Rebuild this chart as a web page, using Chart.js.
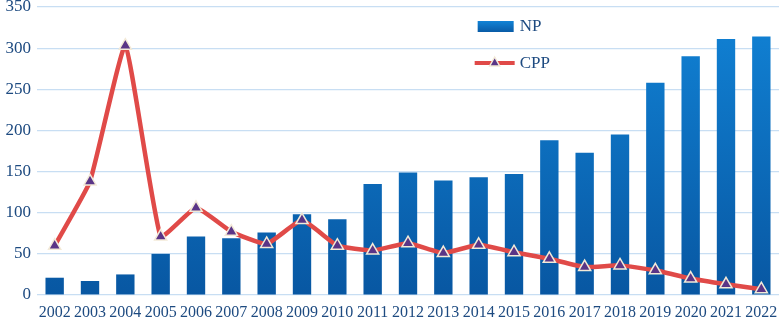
<!DOCTYPE html>
<html>
<head>
<meta charset="utf-8">
<script src="https://cdn.jsdelivr.net/npm/chart.js@4"></script>
<style>
  html, body { margin: 0; padding: 0; background: #fff; }
  #wrap { width: 782px; height: 323px; position: relative; }
</style>
</head>
<body>
<div id="wrap"><canvas id="chart"></canvas></div>
<script>
const years = ['2002', '2003', '2004', '2005', '2006', '2007', '2008', '2009', '2010', '2011', '2012',
    '2013', '2014', '2015', '2016', '2017', '2018', '2019', '2020', '2021', '2022'];
const npValues = [21, 17, 25, 50, 71, 69, 76, 98, 92, 135, 149, 139, 143, 147, 188, 173, 195, 258, 290, 311, 314];
const cppValues = [60, 138, 303, 71, 106, 77, 62, 91, 60, 54, 63, 51, 61, 52, 44, 34, 36, 30, 20, 13, 7];
const yTicks = [0, 50, 100, 150, 200, 250, 300, 350];

const textColor = '#1d4a80';
const fontFamily = '"Liberation Serif", "Times New Roman", serif';

function barGradient(context) {
    const chart = context.chart;
    const area = chart.chartArea;
    if (!area) return '#0a6cc0';
    const g = chart.ctx.createLinearGradient(0, area.top, 0, area.bottom);
    g.addColorStop(0, '#1183d6');
    g.addColorStop(1, '#0857a2');
    return g;
}

// legend drawn by hand so it sits inside the plot like the original
const legendPlugin = {
    id: 'insideLegend',
    afterDatasetsDraw(chart) {
        const ctx = chart.ctx;
        const x = chart.scales.x.getPixelForValue(12);
        ctx.save();
        ctx.font = '17px ' + fontFamily;
        ctx.textBaseline = 'middle';
        // NP
        const g = ctx.createLinearGradient(0, 21, 0, 33);
        g.addColorStop(0, '#1183d6');
        g.addColorStop(1, '#0857a2');
        ctx.fillStyle = g;
        ctx.fillRect(x - 1, 21, 36, 11);
        ctx.fillStyle = textColor;
        ctx.fillText(chart.data.datasets[1].label, x + 41, 27);
        // CPP
        ctx.strokeStyle = '#e04a48';
        ctx.lineWidth = 4;
        ctx.beginPath();
        ctx.moveTo(x - 4, 63);
        ctx.lineTo(x + 36, 63);
        ctx.stroke();
        ctx.fillStyle = '#5a3587';
        ctx.strokeStyle = '#f3ead8';
        ctx.lineWidth = 1.5;
        ctx.beginPath();
        ctx.moveTo(x + 16, 57);
        ctx.lineTo(x + 21, 66);
        ctx.lineTo(x + 11, 66);
        ctx.closePath();
        ctx.fill();
        ctx.stroke();
        ctx.fillStyle = textColor;
        ctx.fillText(chart.data.datasets[0].label, x + 41, 64);
        ctx.restore();
    }
};

const chart = new Chart(document.getElementById('chart').getContext('2d'), {
    type: 'bar',
    data: {
        labels: years,
        datasets: [{
            type: 'line',
            label: 'CPP',
            data: cppValues,
            borderColor: '#e04a48',
            borderWidth: 4.5,
            tension: 0.12,
            pointStyle: 'triangle',
            pointRadius: 7,
            pointBackgroundColor: '#5a3587',
            pointBorderColor: '#f3ead8',
            pointBorderWidth: 1.5,
            clip: false,
            order: 0
        }, {
            label: 'NP',
            data: npValues,
            backgroundColor: barGradient,
            barPercentage: 0.52,
            categoryPercentage: 1,
            order: 1
        }]
    },
    options: {
        responsive: true,
        maintainAspectRatio: false,
        animation: false,
        layout: { autoPadding: false, padding: { top: 7, right: 3, left: 0, bottom: 0 } },
        plugins: {
            legend: { display: false },
            tooltip: { enabled: false }
        },
        scales: {
            x: {
                grid: { display: false, drawTicks: false },
                border: { display: false },
                afterFit(scale) {
                    scale.paddingLeft = 0;
                    scale.paddingRight = 0;
                    scale.height = 28;
                },
                ticks: {
                    color: textColor,
                    font: { family: fontFamily, size: 16 },
                    maxRotation: 0,
                    autoSkip: false,
                    padding: 8
                }
            },
            y: {
                min: 0,
                max: 350,
                afterBuildTicks(axis) {
                    axis.ticks = yTicks.map(v => ({ value: v }));
                },
                afterFit(scale) {
                    scale.paddingTop = 0;
                    scale.paddingBottom = 0;
                    scale.width = 37;
                },
                grid: { color: '#c8def3', lineWidth: 1.2, drawTicks: false },
                border: { display: false },
                ticks: {
                    color: textColor,
                    font: { family: fontFamily, size: 17 },
                    padding: 6
                }
            }
        }
    },
    plugins: [legendPlugin]
});
</script>
</body>
</html>
